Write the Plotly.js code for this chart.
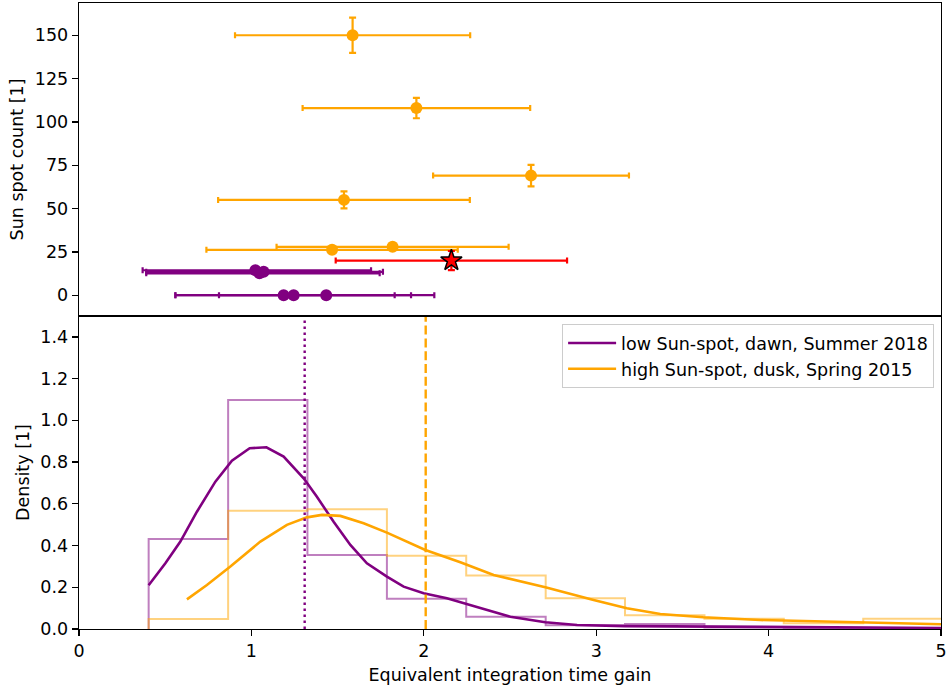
<!DOCTYPE html>
<html>
<head>
<meta charset="utf-8">
<script src="https://cdn.plot.ly/plotly-3.0.1.min.js"></script>
<style>html,body{margin:0;padding:0;background:#fff;}</style>
</head>
<body>
<div id="chart" style="width:947px;height:689px;"></div>
<script>
// ---------- Top panel: Sun spot count vs gain ----------
// high Sun-spot (orange) points
const highX      = [1.587, 1.957, 2.622, 1.537, 1.819, 1.468];
const highY      = [150, 108, 69, 55, 27.9, 26.2];
const highXerr   = [0.682, 0.660, 0.568, 0.730, 0.673, 0.729];
const highYerr   = [10.2, 5.9, 6.2, 4.9, 1.5, 1.5];
// low Sun-spot (purple) points
const lowX       = [1.023, 1.071, 1.047, 1.187, 1.245, 1.434];
const lowY       = [14.4, 13.5, 12.6, 0, 0, 0];
const lowXerrMinus = [0.654, 0.681, 0.657, 0.628, 0.686, 0.622];
const lowXerrPlus  = [0.671, 0.692, 0.697, 0.644, 0.681, 0.627];
// reference point (red star)
const refX = [2.160];
const refY = [20.0];
const refXerr = [0.671];
const refYerr = [5.5];

// ---------- Bottom panel: density ----------
const binEdges   = [0.404, 0.865, 1.325, 1.786, 2.246, 2.707, 3.167, 3.628, 4.088, 4.549, 5.009];
const lowHist    = [0.431, 1.098, 0.355, 0.145, 0.059, 0.018, 0.024, 0.007, 0.002, 0.005];
const highHist   = [0.048, 0.567, 0.574, 0.351, 0.256, 0.147, 0.066, 0.049, 0.027, 0.049];

const lowKdeX  = [0.404, 0.501, 0.588, 0.684, 0.791, 0.887, 0.990, 1.087, 1.187, 1.303, 1.380, 1.477, 1.574, 1.670, 1.786, 1.883, 1.999, 2.134, 2.328, 2.502, 2.705, 2.889, 3.166, 3.626, 4.200, 5.000];
const lowKdeY  = [0.210, 0.315, 0.419, 0.562, 0.706, 0.807, 0.866, 0.871, 0.826, 0.722, 0.634, 0.514, 0.403, 0.315, 0.251, 0.203, 0.171, 0.147, 0.101, 0.059, 0.032, 0.019, 0.014, 0.011, 0.008, 0.005];
const highKdeX = [0.626, 0.742, 0.878, 1.052, 1.206, 1.322, 1.409, 1.516, 1.651, 1.786, 2.009, 2.212, 2.405, 2.705, 2.985, 3.178, 3.372, 3.621, 3.952, 4.339, 4.725, 5.000];
const highKdeY = [0.142, 0.211, 0.299, 0.419, 0.499, 0.535, 0.547, 0.542, 0.507, 0.462, 0.379, 0.320, 0.259, 0.200, 0.139, 0.099, 0.072, 0.056, 0.043, 0.035, 0.027, 0.023];

const lowMedian  = 1.309;
const highMedian = 2.011;

const legendLabels = ['low Sun-spot, dawn, Summer 2018', 'high Sun-spot, dusk, Spring 2015'];

const PURPLE = '#800080', ORANGE = '#FFA500', RED = '#FF0000';

function stepTrace(edges, heights, color) {
  const xs = [edges[0]], ys = [0];
  for (let i = 0; i < heights.length; i++) { xs.push(edges[i]); ys.push(heights[i]); }
  xs.push(edges[edges.length - 1]); ys.push(0);
  return {x: xs, y: ys, xaxis: 'x', yaxis: 'y', type: 'scatter', mode: 'lines',
          line: {shape: 'hv', color: color, width: 2}, opacity: 0.5,
          showlegend: false, hoverinfo: 'skip'};
}

const traces = [];
// top panel
traces.push({
  x: lowX, y: lowY, xaxis: 'x2', yaxis: 'y2', type: 'scatter', mode: 'markers',
  marker: {color: PURPLE, size: 12},
  error_x: {type: 'data', symmetric: false, array: lowXerrPlus, arrayminus: lowXerrMinus,
            color: PURPLE, thickness: 2.2, width: 3},
  showlegend: false
});
traces.push({
  x: highX, y: highY, xaxis: 'x2', yaxis: 'y2', type: 'scatter', mode: 'markers',
  marker: {color: ORANGE, size: 12},
  error_x: {type: 'data', array: highXerr, color: ORANGE, thickness: 2.2, width: 3},
  error_y: {type: 'data', array: highYerr, color: ORANGE, thickness: 2.2, width: 3.5},
  showlegend: false
});
traces.push({
  x: refX, y: refY, xaxis: 'x2', yaxis: 'y2', type: 'scatter', mode: 'markers',
  marker: {color: RED, size: 16, symbol: 'star', line: {color: '#000', width: 1.5}},
  error_x: {type: 'data', array: refXerr, color: RED, thickness: 2.2, width: 3},
  error_y: {type: 'data', array: refYerr, color: RED, thickness: 2.2, width: 3.5},
  showlegend: false
});
// bottom panel
traces.push(stepTrace(binEdges, lowHist, PURPLE));
traces.push(stepTrace(binEdges, highHist, ORANGE));
traces.push({x: lowKdeX, y: lowKdeY, xaxis: 'x', yaxis: 'y', type: 'scatter', mode: 'lines',
             line: {color: PURPLE, width: 2.6}, name: legendLabels[0]});
traces.push({x: highKdeX, y: highKdeY, xaxis: 'x', yaxis: 'y', type: 'scatter', mode: 'lines',
             line: {color: ORANGE, width: 2.6}, name: legendLabels[1]});
traces.push({x: [lowMedian, lowMedian], y: [0, 1.5], xaxis: 'x', yaxis: 'y', type: 'scatter', mode: 'lines',
             line: {color: PURPLE, width: 2.4, dash: '2.4px,3.6px'}, showlegend: false});
traces.push({x: [highMedian, highMedian], y: [0, 1.5], xaxis: 'x', yaxis: 'y', type: 'scatter', mode: 'lines',
             line: {color: ORANGE, width: 2.4, dash: '9px,3.8px'}, showlegend: false});

const font = {family: 'DejaVu Sans, sans-serif', size: 17.5, color: '#000'};
const axisCommon = {showline: true, linecolor: '#000', linewidth: 1.3, mirror: true,
                    showgrid: false, zeroline: false, ticks: 'outside', ticklen: 6,
                    tickwidth: 1.3, tickcolor: '#000', tickfont: font};

const layout = {
  width: 947, height: 689,
  margin: {l: 79, r: 6, t: 3, b: 60},
  paper_bgcolor: '#fff', plot_bgcolor: '#fff',
  font: font,
  showlegend: true,
  xaxis: Object.assign({}, axisCommon, {domain: [0, 1], range: [0, 5], anchor: 'y',
          tickmode: 'array', tickvals: [0, 1, 2, 3, 4, 5],
          title: {text: 'Equivalent integration time gain', font: font, standoff: 8}}),
  yaxis: Object.assign({}, axisCommon, {domain: [0, 0.5], range: [0, 1.5], anchor: 'x',
          tickmode: 'linear', tick0: 0, dtick: 0.2, tickformat: '.1f',
          title: {text: 'Density [1]', font: font, standoff: 6}}),
  xaxis2: Object.assign({}, axisCommon, {domain: [0, 1], range: [0, 5], anchor: 'y2',
          ticks: '', showticklabels: false, matches: 'x'}),
  yaxis2: Object.assign({}, axisCommon, {domain: [0.5, 1], range: [-12, 168.6], anchor: 'x2',
          tickmode: 'linear', tick0: 0, dtick: 25,
          title: {text: 'Sun spot count [1]', font: font, standoff: 6}}),
  legend: {x: 0.992, xanchor: 'right', y: 0.487, yanchor: 'top',
           bgcolor: 'rgba(255,255,255,0.8)', bordercolor: '#cccccc', borderwidth: 1,
           font: font, tracegroupgap: 0, itemwidth: 48}
};

Plotly.newPlot('chart', traces, layout, {staticPlot: true, displayModeBar: false});
</script>
</body>
</html>
